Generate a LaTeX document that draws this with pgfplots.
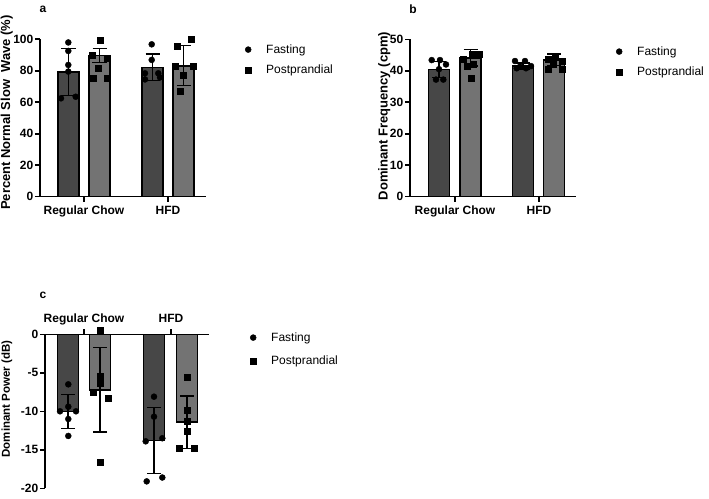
\documentclass[border=0pt]{standalone}
\usepackage{pgfplots}
\pgfplotsset{compat=1.18}
\usepackage{fontspec}
\setmainfont{Liberation Sans}
\definecolor{fastcol}{HTML}{474747}
\definecolor{postcol}{HTML}{737373}

\pgfplotsset{
 gp/.style={
  scale only axis, enlargelimits=false, clip=false,
  axis line style={-, line width=1.6pt, black},
  tick style={line width=1.6pt, black},
  tick align=outside, major tick length=5pt,
  minor tick num=0,
  ticklabel style={font=\fontsize{12}{12}\selectfont\bfseries},
  xticklabel style={text height=9pt, text depth=3pt},
  yticklabel style={inner sep=1.5pt},
  /pgf/number format/assume math mode=true,
  label style={font=\fontsize{13}{13}\selectfont\bfseries},
  ylabel style={rotate=0, anchor=center},
  legend style={draw=none, fill=none, font=\fontsize{12}{14}\selectfont, row sep=6pt, inner sep=0pt, anchor=north west, at={(1,1)}},
  legend cell align=left,
 },
 gpbar/.style={ybar, bar width=21, bar shift=0pt, draw=black, line width=1.6pt, forget plot,
   error bars/y dir=both, error bars/y explicit,
   error bars/error bar style={line width=1.2pt, black},
   error bars/error mark options={line width=1.2pt, mark size=7pt, black, rotate=90}},
 limg/.style={legend image code/.code={\path[draw=none,fill=none] (-3pt,-3pt) rectangle (16pt,3pt);\draw[##1] plot coordinates {(0cm,0cm)};}},
 fpts/.style={only marks, mark=*, mark size=3pt, black, limg},
 ppts/.style={only marks, mark=square*, mark size=3pt, black, limg},
}

\begin{document}
\begin{tikzpicture}
\useasboundingbox (0,0) rectangle (709pt,498pt);

\node[font=\fontsize{12}{12}\selectfont\bfseries] at (43pt,489pt) {a};
\node[font=\fontsize{12}{12}\selectfont\bfseries] at (413pt,489pt) {b};
\node[font=\fontsize{12}{12}\selectfont\bfseries] at (43pt,203pt) {c};

% ---------------- panel a
\begin{axis}[gp, at={(40pt,301.3pt)}, anchor=south west,
  width=166pt, height=157.4pt,
  xmin=40, xmax=206, ymin=0, ymax=100,
  axis x line*=bottom, axis y line*=left,
  xtick={84,168}, xticklabels={Regular Chow, HFD},
  ytick={0,20,40,60,80,100},
  ylabel={Percent Normal Slow\ \ Wave (\%)},
  ylabel style={at={(axis description cs:-0.2,0.535)}},
  legend style={xshift=39pt, yshift=-3pt}]
\addplot[gpbar, fill=fastcol] coordinates {(68.5,79.4) +- (0,14.9) (152.5,82.2) +- (0,8.5)};
\addplot[gpbar, fill=postcol] coordinates {(99.5,89.6) +- (0,4.5) (183.5,83.2) +- (0,12.8)};
\addplot[fpts] coordinates {(68.3,98) (68.3,92.6) (68.3,83.7) (68.3,79.5) (61,62.5) (75.7,63.5)
  (151.7,96.8) (151.7,86.9) (145,78.4) (158.3,78.4) (145,74.5) (160,75.8)};
\addlegendentry{Fasting}
\addplot[ppts] coordinates {(100,99.6) (91.7,90) (106.7,88) (98.3,81.6) (93.3,75.2) (106.7,75.2)
  (191,100) (176.7,95.9) (193,82.6) (175,82.6) (183,77.5) (180,67)};
\addlegendentry{Postprandial}
\end{axis}

% ---------------- panel b
\begin{axis}[gp, at={(410pt,301.3pt)}, anchor=south west,
  width=166pt, height=157.4pt,
  xmin=410, xmax=576, ymin=0, ymax=50,
  axis x line*=bottom, axis y line*=left,
  xtick={455,539}, xticklabels={Regular Chow, HFD},
  ytick={0,10,20,30,40,50},
  ylabel={Dominant Frequency (cpm)},
  ylabel style={at={(axis description cs:-0.155,0.513)}},
  legend style={xshift=40pt, yshift=-5pt}]
\addplot[gpbar, fill=fastcol] coordinates {(439,40.4) +- (0,2.6) (523,41.5) +- (0,1.0)};
\addplot[gpbar, fill=postcol] coordinates {(470.5,44.1) +- (0,2.6) (554,43.5) +- (0,1.8)};
\addplot[fpts] coordinates {(431.7,43.4) (440,43.4) (446,42.0) (439,40.5) (436,37.2) (443.3,37.2)
  (515,43.1) (525,43.1) (516.7,40.8) (526,40.8) (531,41.5) (520,41.3)};
\addlegendentry{Fasting}
\addplot[ppts] coordinates {(463.3,43.6) (471.7,45.2) (479.3,45.2) (473,42) (467,41.5) (470.7,37.8)
  (555,44.7) (548.3,43.6) (561.7,43.1) (553.3,42) (548.3,40.4) (561.7,40.4)};
\addlegendentry{Postprandial}
\end{axis}

% ---------------- panel c
\begin{axis}[gp, at={(45pt,9.7pt)}, anchor=south west,
  width=164pt, height=154pt,
  xmin=45, xmax=209, ymin=-20, ymax=0,
  axis x line*=top, axis y line*=left,
  xtick={84,171}, xticklabels={Regular Chow, HFD},
  ytick={0,-5,-10,-15,-20},
  ylabel={Dominant Power (dB)},
  ylabel style={at={(axis description cs:-0.232,0.58)}, font=\fontsize{11.5}{12}\selectfont\bfseries},
  legend style={xshift=41pt, yshift=4pt, row sep=9pt}]
\addplot[gpbar, fill=fastcol] coordinates {(68,-10.0) +- (0,2.2) (154,-13.8) +- (0,4.3)};
\addplot[gpbar, fill=postcol] coordinates {(100,-7.2) +- (0,5.5) (187,-11.4) +- (0,3.4)};
\addplot[fpts] coordinates {(68.3,-6.5) (68.3,-9.4) (60,-10) (76,-10) (68.3,-11) (68.3,-13.2)
  (154,-8.1) (154,-10.7) (145.7,-13.9) (162.3,-13.5) (146.7,-19.1) (162.3,-18.6)};
\addlegendentry{Fasting}
\addplot[ppts] coordinates {(100,0.56) (100,-5.4) (100,-6.4) (92.7,-7.5) (108.3,-8.3) (100,-16.6)
  (187.3,-5.6) (187.3,-9.8) (187.3,-11.3) (187.3,-12.6) (179.3,-14.8) (194.3,-14.8)};
\addlegendentry{Postprandial}
\end{axis}
\end{tikzpicture}
\end{document}
